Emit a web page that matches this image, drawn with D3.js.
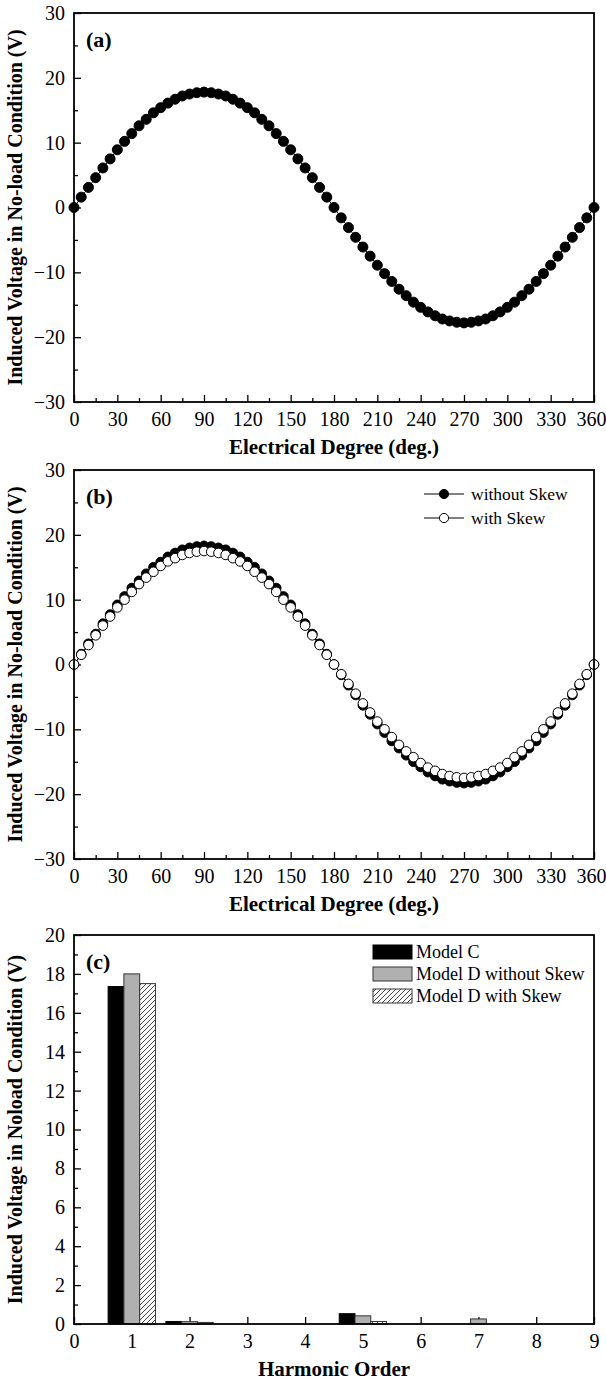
<!DOCTYPE html>
<html>
<head>
<meta charset="utf-8">
<script src="https://cdn.jsdelivr.net/npm/d3@7"></script>
<style>
body { margin: 0; background: #fff; }
svg { display: block; }
</style>
</head>
<body>
<div class="canvas"></div>
<script>
// electrical degree of every sample (deg.)
var degrees = [0,5,10,15,20,25,30,35,40,45,50,55,60,65,70,75,80,85,90,95,100,105,110,115,120,125,130,135,140,145,150,155,160,165,170,175,180,
	185,190,195,200,205,210,215,220,225,230,235,240,245,250,255,260,265,270,275,280,285,290,295,300,305,310,315,320,325,330,335,340,345,350,355,360];

// (a) induced voltage, no-load (V)
var voltA = [0,1.6,3.1,4.6,6.1,7.5,8.9,10.2,11.4,12.6,13.6,14.6,15.4,16.1,16.7,17.2,17.5,17.7,17.8,17.7,17.5,17.2,16.7,16.1,15.4,14.6,13.6,12.6,11.4,10.2,8.9,7.5,6.1,4.6,3.1,1.6,0,
	-1.6,-3.1,-4.6,-6.1,-7.5,-8.9,-10.2,-11.4,-12.6,-13.6,-14.6,-15.4,-16.1,-16.7,-17.2,-17.5,-17.7,-17.8,-17.7,-17.5,-17.2,-16.7,-16.1,-15.4,-14.6,-13.6,-12.6,-11.4,-10.2,-8.9,-7.5,-6.1,-4.6,-3.1,-1.6,0];

// (b) without skew / with skew (V)
var voltNoSkew = [0,1.6,3.2,4.7,6.3,7.7,9.2,10.5,11.8,12.9,14.0,15.0,15.8,16.6,17.2,17.7,18.0,18.2,18.3,18.2,18.0,17.7,17.2,16.6,15.8,15.0,14.0,12.9,11.8,10.5,9.2,7.7,6.3,4.7,3.2,1.6,0,
	-1.6,-3.2,-4.7,-6.3,-7.7,-9.2,-10.5,-11.8,-12.9,-14.0,-15.0,-15.8,-16.6,-17.2,-17.7,-18.0,-18.2,-18.3,-18.2,-18.0,-17.7,-17.2,-16.6,-15.8,-15.0,-14.0,-12.9,-11.8,-10.5,-9.2,-7.7,-6.3,-4.7,-3.2,-1.6,0];
var voltSkew = [0,1.5,3.0,4.5,6.0,7.4,8.8,10.0,11.2,12.4,13.4,14.3,15.2,15.9,16.4,16.9,17.2,17.4,17.5,17.4,17.2,16.9,16.4,15.9,15.2,14.3,13.4,12.4,11.2,10.0,8.8,7.4,6.0,4.5,3.0,1.5,0,
	-1.5,-3.0,-4.5,-6.0,-7.4,-8.8,-10.0,-11.2,-12.4,-13.4,-14.3,-15.2,-15.9,-16.4,-16.9,-17.2,-17.4,-17.5,-17.4,-17.2,-16.9,-16.4,-15.9,-15.2,-14.3,-13.4,-12.4,-11.2,-10.0,-8.8,-7.4,-6.0,-4.5,-3.0,-1.5,0];

// (c) harmonic spectrum (V)
var harmonics = [1,2,3,4,5,6,7,8];
var modelC        = [17.35,0.13,0,0,0.53,0,0,0];
var modelDNoSkew  = [18.0,0.12,0,0,0.42,0,0.26,0];
var modelDSkew    = [17.5,0.08,0,0,0.13,0,0,0];
var barSeries = ["Model C","Model D without Skew","Model D with Skew"];

var degTicks = [0,30,60,90,120,150,180,210,240,270,300,330,360];
var voltTicks = [-30,-20,-10,0,10,20,30];
var harmTicks = [0,1,2,3,4,5,6,7,8,9];
var barVoltTicks = [0,2,4,6,8,10,12,14,16,18,20];

var fig_width = 606;
var fig_height = 1380;
var left = 74, right = 594;
var font = "Liberation Serif, Times New Roman, serif";

var svg = d3.select("body div.canvas").append("svg")
	.attr("width", fig_width)
	.attr("height", fig_height)
	.style("font-family", font);

var defs = svg.append("defs");
var hatch = defs.append("pattern")
	.attr("id", "hatch")
	.attr("patternUnits", "userSpaceOnUse")
	.attr("width", 5).attr("height", 5);
hatch.append("rect").attr("width", 5).attr("height", 5).attr("fill", "#fff");
hatch.append("path")
	.attr("d", "M-1,6L6,-1M-1,1L1,-1M4,6L6,4")
	.attr("stroke", "#333").attr("stroke-width", 0.9);

function styleAxis(g) {
	g.attr("font-family", font).attr("font-size", 20);
	g.select(".domain").remove();
	g.selectAll("line").attr("stroke", "#000").attr("stroke-width", 1.3);
	g.selectAll("text").attr("fill", "#000");
}

// keep the last degree label inside the picture
function pullLast(g) {
	g.selectAll(".tick:last-of-type text").attr("text-anchor", "end").attr("x", 12);
}

function frame(top, bottom, label, xTitle, yTitle) {
	svg.append("rect")
		.attr("x", left).attr("y", top)
		.attr("width", right - left).attr("height", bottom - top)
		.attr("fill", "none").attr("stroke", "#000").attr("stroke-width", 1.8);
	svg.append("text")
		.attr("x", left + 12).attr("y", top + 34)
		.text(label)
		.style("font-size", "22px").style("font-weight", "bold");
	svg.append("text")
		.attr("x", (left + right) / 2).attr("y", bottom + 52)
		.attr("text-anchor", "middle")
		.text(xTitle)
		.style("font-size", "21px").style("font-weight", "bold");
	svg.append("text")
		.attr("transform", "translate(22," + (top + bottom) / 2 + ") rotate(-90)")
		.attr("text-anchor", "middle")
		.text(yTitle)
		.style("font-size", "20px").style("font-weight", "bold");
}

function wavePanel(top, bottom, label, series, r) {
	var x = d3.scaleLinear().domain([0, 360]).range([left, right]);
	var y = d3.scaleLinear().domain([-30, 30]).range([bottom, top]);

	svg.append("g").attr("transform", "translate(0," + bottom + ")")
		.call(d3.axisBottom(x).tickValues(d3.range(15, 360, 30)).tickSize(-4).tickFormat(""))
		.call(styleAxis);
	svg.append("g").attr("transform", "translate(0," + bottom + ")")
		.call(d3.axisBottom(x).tickValues(degTicks).tickSize(-7).tickPadding(10))
		.call(styleAxis)
		.call(pullLast);
	svg.append("g").attr("transform", "translate(" + left + ",0)")
		.call(d3.axisLeft(y).tickValues(d3.range(-25, 30, 10)).tickSize(-4).tickFormat(""))
		.call(styleAxis);
	svg.append("g").attr("transform", "translate(" + left + ",0)")
		.call(d3.axisLeft(y).tickValues(voltTicks).tickSize(-7).tickPadding(9))
		.call(styleAxis);

	var line = d3.line().x(function(d, i) { return x(degrees[i]); }).y(function(d) { return y(d); });
	series.forEach(function(s) {
		svg.append("path").datum(s.values)
			.attr("d", line)
			.attr("fill", "none").attr("stroke", "#000").attr("stroke-width", 1);
		svg.append("g").selectAll("circle").data(s.values).enter().append("circle")
			.attr("cx", function(d, i) { return x(degrees[i]); })
			.attr("cy", function(d) { return y(d); })
			.attr("r", r)
			.attr("fill", s.fill)
			.attr("stroke", "#000").attr("stroke-width", 1);
	});

	frame(top, bottom, label, "Electrical Degree (deg.)", "Induced Voltage in No-load Condition (V)");
	return x;
}

// (a)
wavePanel(13, 402, "(a)", [{ name: "", values: voltA, fill: "#000" }], 5);

// (b)
var bSeries = [
	{ name: "without Skew", values: voltNoSkew, fill: "#000" },
	{ name: "with Skew", values: voltSkew, fill: "#fff" }
];
wavePanel(470, 859, "(b)", bSeries, 4.8);
bSeries.forEach(function(s, i) {
	var ly = 494 + i * 24;
	svg.append("line").attr("x1", 424).attr("x2", 464).attr("y1", ly).attr("y2", ly)
		.attr("stroke", "#000").attr("stroke-width", 1);
	svg.append("circle").attr("cx", 444).attr("cy", ly).attr("r", 4.6)
		.attr("fill", s.fill).attr("stroke", "#000");
	svg.append("text").attr("x", 471).attr("y", ly).attr("dy", "0.33em")
		.text(s.name).style("font-size", "17.5px");
});

// (c)
(function() {
	var top = 935, bottom = 1324;
	var x = d3.scaleLinear().domain([0, 9]).range([left, right]);
	var y = d3.scaleLinear().domain([0, 20]).range([bottom, top]);
	var bw = 0.273;
	var fills = ["#000", "#b0b0b0", "url(#hatch)"];
	var strokes = ["#000", "#333", "#333"];

	svg.append("g").attr("transform", "translate(0," + bottom + ")")
		.call(d3.axisBottom(x).tickValues(harmTicks).tickSize(-7).tickPadding(10))
		.call(styleAxis);
	svg.append("g").attr("transform", "translate(" + left + ",0)")
		.call(d3.axisLeft(y).tickValues(d3.range(1, 20, 2)).tickSize(-4).tickFormat(""))
		.call(styleAxis);
	svg.append("g").attr("transform", "translate(" + left + ",0)")
		.call(d3.axisLeft(y).tickValues(barVoltTicks).tickSize(-7).tickPadding(9))
		.call(styleAxis);

	[modelC, modelDNoSkew, modelDSkew].forEach(function(vals, k) {
		svg.append("g").selectAll("rect")
			.data(vals.map(function(v, i) { return { h: harmonics[i], v: v }; }).filter(function(d) { return d.v > 0; }))
			.enter().append("rect")
			.attr("x", function(d) { return x(d.h + (k - 1.5) * bw); })
			.attr("width", x(bw) - x(0))
			.attr("y", function(d) { return y(d.v); })
			.attr("height", function(d) { return y(0) - y(d.v); })
			.attr("fill", fills[k])
			.attr("stroke", strokes[k]).attr("stroke-width", 1);
	});

	frame(top, bottom, "(c)", "Harmonic Order", "Induced Voltage in Noload Condition (V)");

	barSeries.forEach(function(name, k) {
		var ry = 945 + k * 22;
		svg.append("rect").attr("x", 373).attr("y", ry).attr("width", 39).attr("height", 14)
			.attr("fill", fills[k]).attr("stroke", strokes[k]).attr("stroke-width", 1);
		svg.append("text").attr("x", 416).attr("y", ry + 7).attr("dy", "0.33em")
			.text(name).style("font-size", "18px");
	});
})();
</script>
</body>
</html>
